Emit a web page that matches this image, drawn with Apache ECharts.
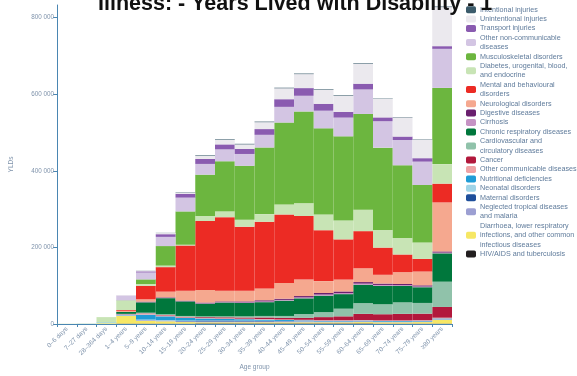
<!DOCTYPE html>
<html>
<head>
<meta charset="utf-8">
<script src="https://cdn.jsdelivr.net/npm/echarts@6/dist/echarts.min.js"></script>
<style>html,body{margin:0;padding:0;background:#fff;}#c{width:577px;height:376px;}</style>
</head>
<body>
<div id="c"></div>
<script>
const titleText = 'Illness: - Years Lived with Disability - 1';
const categories = ['0–6 days','7–27 days','28–364 days','1–4 years','5–9 years','10–14 years','15–19 years','20–24 years','25–29 years','30–34 years','35–39 years','40–44 years','45–49 years','50–54 years','55–59 years','60–64 years','65–69 years','70–74 years','75–79 years','≥80 years'];
const yTicks = [0, 200000, 400000, 600000, 800000];

// series, bottom of stack first
const hiv          = [0,0,0,1000,1000,1000,1000,1500,1500,1500,1500,1500,1500,1500,1500,1500,1000,1000,1000,1000];
const diarrhoea    = [300,500,2000,20000,7000,6000,4000,3000,3000,3000,3000,3000,3000,3000,3000,3500,3500,3500,4000,10000];
const tropical     = [0,0,0,1500,2000,2000,2000,2000,2000,2000,2000,2000,2000,2000,2000,2000,1500,1500,1500,1500];
const maternal     = [0,0,0,0,0,0,1000,2500,2500,2000,1500,1000,500,0,0,0,0,0,0,0];
const neonatal     = [300,800,1000,500,1500,1000,1000,500,500,500,500,500,500,0,0,0,0,0,0,0];
const nutritional  = [0,0,1000,1500,13000,10000,7000,5000,4000,3500,3000,2500,2000,2000,2000,2000,2000,2000,2000,2000];
const otherComm    = [0,0,0,1000,2500,2500,1500,1500,1500,1500,1500,1500,1500,1500,1500,1500,1500,1500,1500,2000];
const cancer       = [0,0,0,500,1000,1000,1500,2000,2500,3000,4000,4000,5000,8000,10000,16000,16000,17000,17000,28000];
const cardio       = [0,0,0,500,1500,2000,2000,2000,2500,3000,4000,5000,10000,13000,20000,28000,26000,30000,28000,66000];
const respiratory  = [0,0,0,5000,27000,42000,38000,33000,36000,35000,36000,40000,41000,43000,38000,48000,48000,43000,41000,74000];
const cirrhosis    = [0,0,0,0,500,500,500,1000,1000,1500,2000,2000,2500,3000,3000,3000,2500,2000,2000,2000];
const digestive    = [0,0,0,0,1500,1500,1500,2000,2000,2500,3000,3000,3500,4000,4000,4000,3500,3000,3000,3000];
const neurological = [0,0,0,3000,6000,15000,26000,33000,28000,28000,31000,41000,43000,31000,31000,36000,23000,31000,36000,128000];
const mental       = [0,0,0,2000,35000,64000,118000,180000,192000,167000,174000,179000,166000,133000,105000,97000,71000,46000,33000,49000];
const diabetes     = [0,0,14000,24000,5000,4000,2000,13000,15000,18000,20000,26000,33000,41000,49000,56000,46000,43000,43000,51000];
const musculo      = [0,0,0,1000,12000,51000,87000,108000,131000,141000,174000,214000,240000,225000,220000,250000,215000,190000,150000,199000];
const otherNCD     = [0,0,0,12000,18000,24000,36000,28000,31000,31000,33000,41000,41000,46000,49000,64000,69000,66000,61000,102000];
const transport    = [0,0,0,500,3000,7000,10000,13000,13000,13000,15000,20000,20000,18000,15000,15000,10000,9000,9000,7000];
const unintentional= [0,0,0,1000,2000,3000,2500,8000,12000,12000,18000,28500,36500,36500,42000,52000,48000,50000,48000,102000];
const intentional  = [0,0,0,0,300,500,1000,1500,1500,1500,1500,1500,1500,1500,1500,1500,1000,1000,1000,1500];

const seriesNames = ['HIV/AIDS and tuberculosis','Diarrhoea, lower respiratory infections, and other common infectious diseases','Neglected tropical diseases and malaria','Maternal disorders','Neonatal disorders','Nutritional deficiencies','Other communicable diseases','Cancer','Cardiovascular and circulatory diseases','Chronic respiratory diseases','Cirrhosis','Digestive diseases','Neurological disorders','Mental and behavioural disorders','Diabetes, urogenital, blood, and endocrine','Musculoskeletal disorders','Other non-communicable diseases','Transport injuries','Unintentional injuries','Intentional injuries'];
const legendLabels = ['HIV/AIDS and tuberculosis','Diarrhoea, lower respiratory\ninfections, and other common\ninfectious diseases','Neglected tropical diseases\nand malaria','Maternal disorders','Neonatal disorders','Nutritional deficiencies','Other communicable diseases','Cancer','Cardiovascular and\ncirculatory diseases','Chronic respiratory diseases','Cirrhosis','Digestive diseases','Neurological disorders','Mental and behavioural\ndisorders','Diabetes, urogenital, blood,\nand endocrine','Musculoskeletal disorders','Other non-communicable\ndiseases','Transport injuries','Unintentional injuries','Intentional injuries'];
const seriesValues = [hiv,diarrhoea,tropical,maternal,neonatal,nutritional,otherComm,cancer,cardio,respiratory,cirrhosis,digestive,neurological,mental,diabetes,musculo,otherNCD,transport,unintentional,intentional];
const colors = ['#231f20','#f6e764','#9c9fd2','#1f4f9b','#9fd4e7','#1f9cd6','#efa3a5','#b2183c','#90c2aa','#00773c','#c693c4','#6a1f6e','#f5a88f','#ec2b24','#c8e4b5','#6cb63f','#d3c5e3','#8a5bb0','#ebe9ee','#3b5b6b'];

const chart = echarts.init(document.getElementById('c'));
const labelMap = {};
seriesNames.forEach((n,i)=>{ labelMap[n] = legendLabels[i]; });
const axisBlue = '#4a86b2';
const textGrey = '#7f93ab';
const FONT = 'Liberation Sans';

chart.setOption({
  animation: false,
  title: {
    text: titleText, left: 93, top: -12,
    textStyle: {fontFamily: FONT, fontWeight: 'bold', fontSize: 21.5, color: '#111'}
  },
  legend: {
    orient: 'vertical', left: 461, top: 0,
    itemWidth: 10, itemHeight: 7, itemGap: 0,
    data: seriesNames.slice().reverse(),
    formatter: n => labelMap[n],
    textStyle: {fontFamily: FONT, fontSize: 7.2, lineHeight: 9.4, color: '#5f7b9b', padding: [0,0,0,-1]},
    selectedMode: false
  },
  grid: {left: 56, right: 125, top: 5, bottom: 45, containLabel: false},
  xAxis: {
    type: 'category', data: categories,
    name: 'Age group', nameLocation: 'middle', nameGap: 40,
    nameTextStyle: {fontFamily: FONT, fontSize: 6.5, color: textGrey},
    axisLine: {lineStyle: {color: axisBlue, width: 1}},
    axisTick: {show: true, length: 3, lineStyle: {color: axisBlue}},
    axisLabel: {rotate: 45, fontFamily: FONT, fontSize: 6.5, color: textGrey, margin: 4, interval: 0}
  },
  yAxis: {
    type: 'value', min: 0, max: 833000,
    name: 'YLDs', nameLocation: 'middle', nameGap: 42, nameRotate: 90,
    nameTextStyle: {fontFamily: FONT, fontSize: 6.5, color: textGrey},
    axisLine: {show: true, lineStyle: {color: axisBlue, width: 1}},
    axisTick: {show: true, length: 4, customValues: yTicks, lineStyle: {color: axisBlue}},
    axisLabel: {customValues: yTicks, fontFamily: FONT, fontSize: 6.3, color: textGrey, margin: 3,
      formatter: v => v === 0 ? '0' : String(v).replace(/\B(?=(\d{3})+(?!\d))/g, ' ')},
    splitLine: {show: false}
  },
  series: seriesNames.map((n,i)=>({
    name: n, type: 'bar', stack: 'yld', data: seriesValues[i],
    barCategoryGap: '0%', barGap: '0%',
    itemStyle: {color: colors[i]},
    emphasis: {disabled: true}
  }))
});
</script>
</body>
</html>
